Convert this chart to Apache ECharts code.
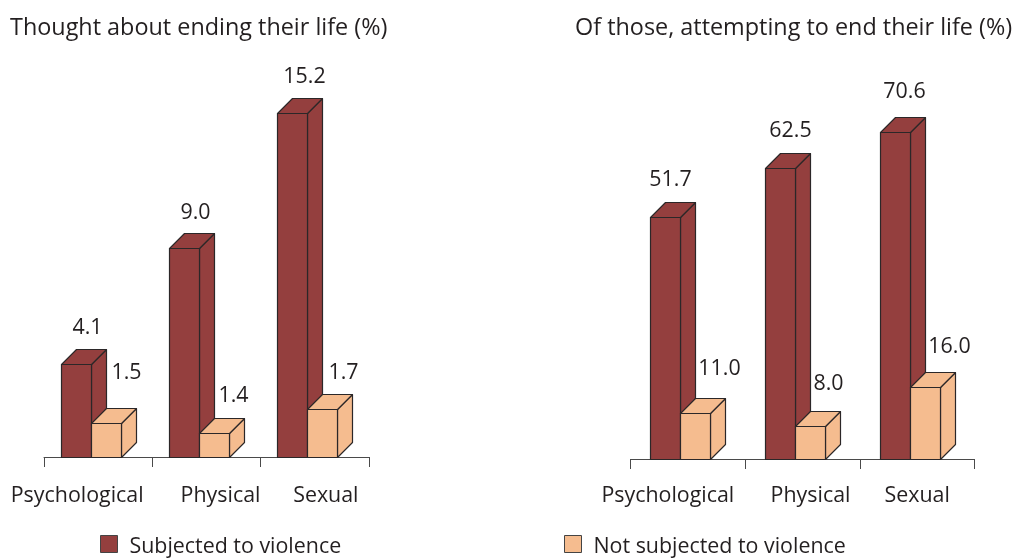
<!DOCTYPE html>
<html>
<head>
<meta charset="utf-8">
<style>html,body{margin:0;padding:0;background:#fff}#c{width:1014px;height:558px}</style>
<script src="https://cdn.jsdelivr.net/npm/echarts@6/dist/echarts.min.js"></script>
</head>
<body>
<div id="c"></div>
<script>
const categories = ['Psychological', 'Physical', 'Sexual'];
const seriesNames = ['Subjected to violence', 'Not subjected to violence'];
const titles = ['Thought about ending their life (%)', 'Of those, attempting to end their life (%)'];

// Printed values
const thoughtSubjected = ['4.1', '9.0', '15.2'];
const thoughtNot = ['1.5', '1.4', '1.7'];
const attemptSubjected = ['51.7', '62.5', '70.6'];
const attemptNot = ['11.0', '8.0', '16.0'];

const thoughtSubjectedDrawn = [4.11, 9.24, 15.2];
const thoughtNotDrawn = [1.5, 1.06, 2.12];
const attemptSubjectedDrawn = [52.3, 62.9, 70.7];
const attemptNotDrawn = [9.9, 7.1, 15.55];

// Layout only
const FONT = '"Open Sans"';
const TEXT = '#231f20';
const MAROON = '#943f3e';
const PEACH = '#f5bc8f';
const EDGE = '#2b2728';
const BAR = 30, DEPTH = 15;
const labelNudge = [
  [[11, -37], [11, -36], [12, -37]],
  [[20, -51], [19, -38], [21, -37]],
  [[5, -38], [10, -38], [9, -41]],
  [[24, -45], [18, -43], [24, -41]]
];
const catShift = [[-21, 14, 11], [-20, 8, 0]];

function renderBox(slot, printed, nudges) {
  return function (params, api) {
    const cat = api.value(0), h = api.value(1), text = printed[cat];
    const base = api.coord([cat, 0]);
    const top = api.coord([cat, h]);
    const groupLeft = base[0] - (2 * BAR + DEPTH) / 2;
    const x0 = Math.round(groupLeft + slot * BAR) + 0.5;
    const x1 = x0 + BAR, y0 = Math.round(base[1]) + 0.5, y1 = Math.round(top[1]) + 0.5;
    const fill = api.visual('color');
    const style = { fill: fill, stroke: EDGE, lineWidth: 1.2, lineJoin: 'round' };
    const poly = pts => ({ type: 'polygon', shape: { points: pts }, style: style });
    const n = nudges[cat];
    return {
      type: 'group',
      children: [
        poly([[x1, y0], [x1 + DEPTH, y0 - DEPTH], [x1 + DEPTH, y1 - DEPTH], [x1, y1]]),
        poly([[x0, y1], [x0 + DEPTH, y1 - DEPTH], [x1 + DEPTH, y1 - DEPTH], [x1, y1]]),
        poly([[x0, y0], [x1, y0], [x1, y1], [x0, y1]]),
        {
          type: 'text',
          style: {
            x: x0 + BAR / 2 + n[0], y: y1 + n[1], text: text,
            fill: TEXT, font: '21.4px ' + FONT, align: 'center', verticalAlign: 'middle'
          }
        }
      ]
    };
  };
}

function makeSeries(name, idx, slot, drawn, printed, color, nudges) {
  return {
    type: 'custom', name: name, xAxisIndex: idx, yAxisIndex: idx, clip: false,
    itemStyle: { color: color, borderColor: EDGE, borderWidth: 1 },
    encode: { x: 0, y: 1 },
    renderItem: renderBox(slot, printed, nudges),
    data: categories.map((c, i) => [i, drawn[i]])
  };
}

function makeX(idx) {
  const rich = {};
  catShift[idx].forEach((s, i) => {
    rich['c' + i] = {
      fontFamily: 'Open Sans', fontSize: 21.4, color: TEXT,
      padding: s < 0 ? [0, -2 * s, 0, 0] : [0, 0, 0, 2 * s]
    };
  });
  return {
    type: 'category', gridIndex: idx, data: categories, boundaryGap: true,
    axisLine: { show: true, lineStyle: { color: '#4a4a4a', width: 1 } },
    axisTick: { show: true, length: 10, alignWithLabel: false, lineStyle: { color: '#4a4a4a', width: 1 } },
    axisLabel: {
      interval: 0, margin: idx === 0 ? 28 : 26, hideOverlap: false,
      formatter: v => '{c' + categories.indexOf(v) + '|' + v + '}', rich: rich
    }
  };
}

const legendBase = {
  top: 535, padding: 0, icon: 'rect', itemWidth: 17, itemHeight: 17, selectedMode: false,
  itemStyle: { borderWidth: 1, borderColor: '#444' },
  formatter: n => '{t|' + n + '}',
  textStyle: {
    rich: { t: { fontFamily: 'Open Sans', fontSize: 21.4, color: TEXT, padding: [5, 0, 0, 7] } }
  }
};

const titleStyle = { fontFamily: 'Open Sans', fontSize: 23.4, fontWeight: 'normal', color: TEXT };

const chart = echarts.init(document.getElementById('c'), null, { renderer: 'canvas' });
chart.setOption({
  animation: false,
  backgroundColor: '#fff',
  title: [
    { text: titles[0], left: 5, top: 12, textStyle: titleStyle },
    { text: titles[1], left: 570, top: 12, textStyle: titleStyle }
  ],
  grid: [
    { left: 44, width: 325, top: 50, height: 407 },
    { left: 630.5, width: 344, top: 89, height: 370 }
  ],
  xAxis: [makeX(0), makeX(1)],
  yAxis: [
    { type: 'value', gridIndex: 0, min: 0, max: 18, show: false },
    { type: 'value', gridIndex: 1, min: 0, max: 80, show: false }
  ],
  legend: [
    Object.assign({}, legendBase, { data: [seriesNames[0]], left: 100 }),
    Object.assign({}, legendBase, { data: [seriesNames[1]], left: 564 })
  ],
  series: [
    makeSeries(seriesNames[0], 0, 0, thoughtSubjectedDrawn, thoughtSubjected, MAROON, labelNudge[0]),
    makeSeries(seriesNames[1], 0, 1, thoughtNotDrawn, thoughtNot, PEACH, labelNudge[1]),
    makeSeries(seriesNames[0], 1, 0, attemptSubjectedDrawn, attemptSubjected, MAROON, labelNudge[2]),
    makeSeries(seriesNames[1], 1, 1, attemptNotDrawn, attemptNot, PEACH, labelNudge[3])
  ]
});
</script>
</body>
</html>
